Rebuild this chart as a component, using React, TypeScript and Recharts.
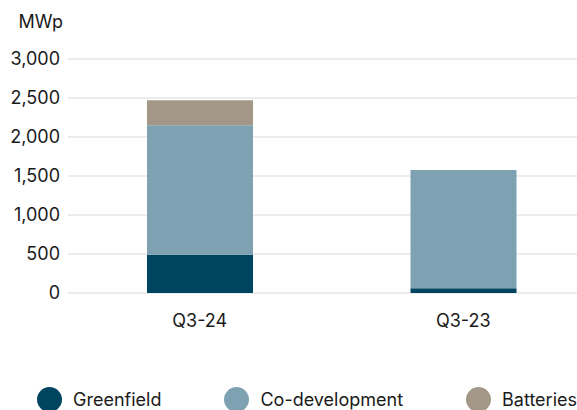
import React from 'react';
import { BarChart, Bar, XAxis, YAxis, CartesianGrid, Legend } from 'recharts';

const quarters = ['Q3-24', 'Q3-23'];
const greenfield = [490, 60];
const coDevelopment = [1662, 1517];
const batteries = [320, 0];
const yTicks = [0, 500, 1000, 1500, 2000, 2500, 3000];

const seriesInfo = [
  { key: 'greenfield', name: 'Greenfield', color: '#00455f' },
  { key: 'coDevelopment', name: 'Co-development', color: '#7fa2b3' },
  { key: 'batteries', name: 'Batteries', color: '#a39887' },
];

const data = quarters.map((q, i) => ({
  quarter: q,
  greenfield: greenfield[i],
  coDevelopment: coDevelopment[i],
  batteries: batteries[i],
}));

const FONT = 'Inter, "Noto Sans", sans-serif';
const TEXT = '#1a1a1a';

const fmt = (v: number) => v.toLocaleString('en-US');

const LegendContent = () => (
  <div style={{ display: 'flex', alignItems: 'center', height: 22, paddingLeft: 37, fontFamily: FONT, fontSize: 18, color: TEXT }}>
    {seriesInfo.map((s) => (
      <div key={s.key} style={{ display: 'flex', alignItems: 'center', marginRight: 63 }}>
        <span style={{ width: 25, height: 25, borderRadius: '50%', background: s.color, marginRight: 11, display: 'inline-block', flexShrink: 0 }} />
        <span style={{ whiteSpace: 'nowrap' }}>{s.name}</span>
      </div>
    ))}
  </div>
);

export default function App() {
  return (
    <div style={{ position: 'absolute', left: 0, top: 0, width: 577, height: 410, overflow: 'hidden', background: '#fff' }}>
      <div style={{ position: 'absolute', right: 577 - 63, top: 11, fontFamily: FONT, fontSize: 18, color: TEXT }}>MWp</div>
      <BarChart
        width={600}
        height={410}
        data={data}
        margin={{ top: 59, right: 5, left: 0, bottom: 55 }}
      >
        <CartesianGrid vertical={false} stroke="#e6e6e6" strokeWidth={1.5} />
        <XAxis
          dataKey="quarter"
          axisLine={false}
          tickLine={false}
          tickSize={0}
          tickMargin={21}
          height={40}
          tick={{ fill: TEXT, fontSize: 18, fontFamily: FONT }}
        />
        <YAxis
          domain={[0, 3000]}
          ticks={yTicks}
          width={68}
          axisLine={false}
          tickLine={false}
          tickSize={0}
          tickMargin={8}
          tickFormatter={fmt}
          tick={{ fill: TEXT, fontSize: 18, fontFamily: FONT }}
        />
        <Legend content={<LegendContent />} verticalAlign="bottom" wrapperStyle={{ bottom: 0, left: 0, height: 22 }} />
        {seriesInfo.map((s) => (
          <Bar key={s.key} dataKey={s.key} name={s.name} stackId="a" fill={s.color} barSize={106} isAnimationActive={false} />
        ))}
      </BarChart>
    </div>
  );
}
